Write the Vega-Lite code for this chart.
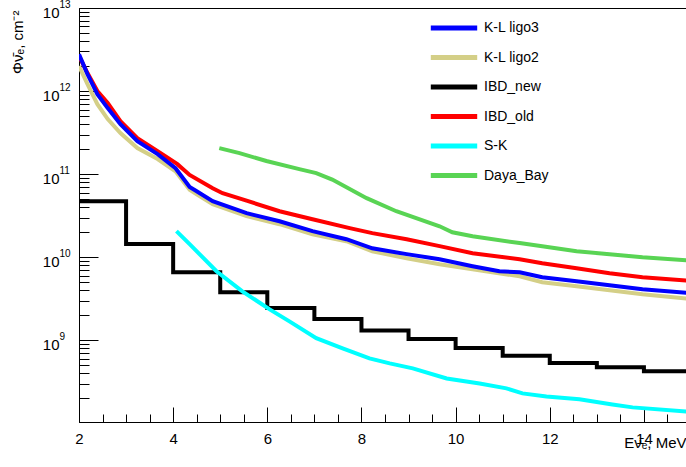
{
  "$schema": "https://vega.github.io/schema/vega-lite/v6.json",
  "width": 612,
  "height": 414,
  "autosize": {"type": "none"},
  "padding": {"left": 79, "top": 8, "right": 0, "bottom": 45},
  "background": "white",
  "config": {
    "view": {"stroke": "black", "strokeWidth": 1},
    "font": "Liberation Sans",
    "axis": {"grid": false, "domainColor": "black", "tickColor": "black", "labelColor": "black", "titleColor": "black", "labelFont": "Liberation Sans", "titleFont": "Liberation Sans", "labelFontSize": 15, "titleFontSize": 15, "titleFontWeight": "normal", "labelFlush": false, "labelOverlap": false, "labelBound": false}
  },
  "data": {"values": [
    {"s": "K-L ligo2", "x": 2.0, "y": 2.0e12}, {"s": "K-L ligo2", "x": 2.18, "y": 1.21e12}, {"s": "K-L ligo2", "x": 2.39, "y": 6.97e11}, {"s": "K-L ligo2", "x": 2.61, "y": 4.6e11}, {"s": "K-L ligo2", "x": 2.88, "y": 3.12e11}, {"s": "K-L ligo2", "x": 3.24, "y": 2.06e11}, {"s": "K-L ligo2", "x": 3.67, "y": 1.52e11}, {"s": "K-L ligo2", "x": 4.05, "y": 1.08e11}, {"s": "K-L ligo2", "x": 4.35, "y": 6.5e10}, {"s": "K-L ligo2", "x": 4.5, "y": 5.74e10}, {"s": "K-L ligo2", "x": 4.84, "y": 4.36e10}, {"s": "K-L ligo2", "x": 5.56, "y": 3.12e10}, {"s": "K-L ligo2", "x": 6.26, "y": 2.5e10}, {"s": "K-L ligo2", "x": 6.96, "y": 1.89e10}, {"s": "K-L ligo2", "x": 7.68, "y": 1.56e10}, {"s": "K-L ligo2", "x": 8.23, "y": 1.18e10}, {"s": "K-L ligo2", "x": 8.96, "y": 9.73e9}, {"s": "K-L ligo2", "x": 9.66, "y": 8.24e9}, {"s": "K-L ligo2", "x": 10.36, "y": 7.16e9}, {"s": "K-L ligo2", "x": 11.36, "y": 5.9e9}, {"s": "K-L ligo2", "x": 11.84, "y": 5.0e9}, {"s": "K-L ligo2", "x": 12.57, "y": 4.48e9}, {"s": "K-L ligo2", "x": 13.27, "y": 4.0e9}, {"s": "K-L ligo2", "x": 13.97, "y": 3.58e9}, {"s": "K-L ligo2", "x": 15.0, "y": 3.15e9},
    {"s": "IBD_old", "x": 2.0, "y": 2.65e12}, {"s": "IBD_old", "x": 2.18, "y": 1.65e12}, {"s": "IBD_old", "x": 2.39, "y": 1.0e12}, {"s": "IBD_old", "x": 2.61, "y": 7.2e11}, {"s": "IBD_old", "x": 2.88, "y": 4.36e11}, {"s": "IBD_old", "x": 3.24, "y": 2.72e11}, {"s": "IBD_old", "x": 3.67, "y": 1.89e11}, {"s": "IBD_old", "x": 4.09, "y": 1.32e11}, {"s": "IBD_old", "x": 4.35, "y": 9.8e10}, {"s": "IBD_old", "x": 4.84, "y": 6.78e10}, {"s": "IBD_old", "x": 5.05, "y": 5.9e10}, {"s": "IBD_old", "x": 5.56, "y": 4.8e10}, {"s": "IBD_old", "x": 6.26, "y": 3.58e10}, {"s": "IBD_old", "x": 6.96, "y": 2.87e10}, {"s": "IBD_old", "x": 7.75, "y": 2.24e10}, {"s": "IBD_old", "x": 8.23, "y": 1.95e10}, {"s": "IBD_old", "x": 8.96, "y": 1.65e10}, {"s": "IBD_old", "x": 9.66, "y": 1.36e10}, {"s": "IBD_old", "x": 10.36, "y": 1.12e10}, {"s": "IBD_old", "x": 11.36, "y": 9.46e9}, {"s": "IBD_old", "x": 11.84, "y": 8.47e9}, {"s": "IBD_old", "x": 12.57, "y": 7.37e9}, {"s": "IBD_old", "x": 13.27, "y": 6.41e9}, {"s": "IBD_old", "x": 13.97, "y": 5.74e9}, {"s": "IBD_old", "x": 15.0, "y": 5.2e9},
    {"s": "K-L ligo3", "x": 2.0, "y": 2.77e12}, {"s": "K-L ligo3", "x": 2.18, "y": 1.6e12}, {"s": "K-L ligo3", "x": 2.39, "y": 9.2e11}, {"s": "K-L ligo3", "x": 2.61, "y": 6.24e11}, {"s": "K-L ligo3", "x": 2.88, "y": 4.0e11}, {"s": "K-L ligo3", "x": 3.24, "y": 2.5e11}, {"s": "K-L ligo3", "x": 3.67, "y": 1.74e11}, {"s": "K-L ligo3", "x": 4.05, "y": 1.18e11}, {"s": "K-L ligo3", "x": 4.35, "y": 7.0e10}, {"s": "K-L ligo3", "x": 4.5, "y": 6.24e10}, {"s": "K-L ligo3", "x": 4.84, "y": 4.73e10}, {"s": "K-L ligo3", "x": 5.56, "y": 3.39e10}, {"s": "K-L ligo3", "x": 6.26, "y": 2.71e10}, {"s": "K-L ligo3", "x": 6.96, "y": 2.06e10}, {"s": "K-L ligo3", "x": 7.68, "y": 1.65e10}, {"s": "K-L ligo3", "x": 8.23, "y": 1.28e10}, {"s": "K-L ligo3", "x": 8.96, "y": 1.09e10}, {"s": "K-L ligo3", "x": 9.66, "y": 9.46e9}, {"s": "K-L ligo3", "x": 10.36, "y": 7.8e9}, {"s": "K-L ligo3", "x": 10.93, "y": 6.78e9}, {"s": "K-L ligo3", "x": 11.36, "y": 6.6e9}, {"s": "K-L ligo3", "x": 11.84, "y": 5.74e9}, {"s": "K-L ligo3", "x": 12.57, "y": 5.14e9}, {"s": "K-L ligo3", "x": 13.27, "y": 4.6e9}, {"s": "K-L ligo3", "x": 13.97, "y": 4.11e9}, {"s": "K-L ligo3", "x": 15.0, "y": 3.7e9},
    {"s": "IBD_new", "x": 2, "y": 4.73e10}, {"s": "IBD_new", "x": 3, "y": 1.44e10}, {"s": "IBD_new", "x": 4, "y": 6.6e9}, {"s": "IBD_new", "x": 5, "y": 3.78e9}, {"s": "IBD_new", "x": 6, "y": 2.45e9}, {"s": "IBD_new", "x": 7, "y": 1.81e9}, {"s": "IBD_new", "x": 8, "y": 1.31e9}, {"s": "IBD_new", "x": 9, "y": 1.04e9}, {"s": "IBD_new", "x": 10, "y": 8.06e8}, {"s": "IBD_new", "x": 11, "y": 6.53e8}, {"s": "IBD_new", "x": 12, "y": 5.33e8}, {"s": "IBD_new", "x": 13, "y": 4.73e8}, {"s": "IBD_new", "x": 14, "y": 4.24e8}, {"s": "IBD_new", "x": 15, "y": 4.24e8},
    {"s": "S-K", "x": 4.07, "y": 2.06e10}, {"s": "S-K", "x": 4.35, "y": 1.44e10}, {"s": "S-K", "x": 4.92, "y": 6.78e9}, {"s": "S-K", "x": 5.47, "y": 3.89e9}, {"s": "S-K", "x": 6.05, "y": 2.36e9}, {"s": "S-K", "x": 6.47, "y": 1.69e9}, {"s": "S-K", "x": 7.04, "y": 1.06e9}, {"s": "S-K", "x": 7.6, "y": 8.0e8}, {"s": "S-K", "x": 8.17, "y": 6.07e8}, {"s": "S-K", "x": 8.6, "y": 5.28e8}, {"s": "S-K", "x": 9.09, "y": 4.6e8}, {"s": "S-K", "x": 9.81, "y": 3.48e8}, {"s": "S-K", "x": 10.51, "y": 3.03e8}, {"s": "S-K", "x": 11.08, "y": 2.64e8}, {"s": "S-K", "x": 11.42, "y": 2.3e8}, {"s": "S-K", "x": 11.93, "y": 2.11e8}, {"s": "S-K", "x": 12.63, "y": 1.95e8}, {"s": "S-K", "x": 13.33, "y": 1.69e8}, {"s": "S-K", "x": 13.76, "y": 1.56e8}, {"s": "S-K", "x": 15.0, "y": 1.38e8},
    {"s": "Daya_Bay", "x": 4.98, "y": 2.06e11}, {"s": "Daya_Bay", "x": 5.41, "y": 1.79e11}, {"s": "Daya_Bay", "x": 5.98, "y": 1.44e11}, {"s": "Daya_Bay", "x": 6.68, "y": 1.15e11}, {"s": "Daya_Bay", "x": 7.04, "y": 1.03e11}, {"s": "Daya_Bay", "x": 7.38, "y": 8.6e10}, {"s": "Daya_Bay", "x": 8.11, "y": 5.14e10}, {"s": "Daya_Bay", "x": 8.74, "y": 3.58e10}, {"s": "Daya_Bay", "x": 9.66, "y": 2.36e10}, {"s": "Daya_Bay", "x": 9.93, "y": 2.0e10}, {"s": "Daya_Bay", "x": 10.36, "y": 1.79e10}, {"s": "Daya_Bay", "x": 11.36, "y": 1.48e10}, {"s": "Daya_Bay", "x": 11.84, "y": 1.36e10}, {"s": "Daya_Bay", "x": 12.57, "y": 1.18e10}, {"s": "Daya_Bay", "x": 13.27, "y": 1.09e10}, {"s": "Daya_Bay", "x": 13.97, "y": 1.0e10}, {"s": "Daya_Bay", "x": 15.0, "y": 9.1e9}
  ]},
  "layer": [
    {
      "transform": [{"filter": "datum.s == 'K-L ligo2' || datum.s == 'IBD_old' || datum.s == 'K-L ligo3'"}],
      "mark": {"type": "line", "strokeWidth": 4, "clip": true},
      "encoding": {
        "x": {"field": "x", "type": "quantitative",
          "scale": {"domain": [2, 15], "nice": false, "zero": false},
          "axis": {"orient": "bottom", "values": [2, 4, 6, 8, 10, 12, 14], "tickSize": -15, "labelPadding": 24, "title": "Eν̄ₑ, MeV", "titleAnchor": "end", "titleAlign": "right", "titleBaseline": "alphabetic", "titleX": 607, "titleY": 25}},
        "y": {"field": "y", "type": "quantitative",
          "scale": {"type": "log", "domain": [1.04e8, 1e13], "nice": false},
          "axis": {"orient": "left", "values": [1e9, 1e10, 1e11, 1e12, 1e13], "tickSize": -19, "labelPadding": 39, "labelOffset": 4, "labelAlign": "right", "labelExpr": "'10'",
            "title": "Φν̄ₑ, cm⁻²", "titleAngle": 270, "titleAnchor": "end", "titleAlign": "right", "titleBaseline": "middle", "titleX": -62, "titleY": 2}},
        "color": {"field": "s", "type": "nominal",
          "scale": {"domain": ["K-L ligo3", "K-L ligo2", "IBD_new", "IBD_old", "S-K", "Daya_Bay"], "range": ["#0000ff", "#d4cf87", "#000000", "#ff0000", "#00ffff", "#59d454"]},
          "legend": {"orient": "none", "legendX": 358, "legendY": 3, "title": null, "symbolType": "M-1.6,0H1.6", "symbolSize": 841, "symbolStrokeWidth": 5, "labelFontSize": 14, "labelFont": "Liberation Sans", "labelColor": "black", "labelOffset": 13, "rowPadding": 2.5, "padding": 0}}
      }
    },
    {
      "transform": [{"filter": "datum.s == 'IBD_new'"}],
      "mark": {"type": "line", "strokeWidth": 4, "interpolate": "step-after", "clip": true},
      "encoding": {
        "x": {"field": "x", "type": "quantitative",
          "scale": {"domain": [2, 15], "nice": false, "zero": false},
          "axis": {"orient": "bottom", "values": [2.5, 3, 3.5, 4.5, 5, 5.5, 6.5, 7, 7.5, 8.5, 9, 9.5, 10.5, 11, 11.5, 12.5, 13, 13.5, 14.5], "tickSize": -8, "labels": false, "domain": false, "title": null}},
        "y": {"field": "y", "type": "quantitative",
          "scale": {"type": "log", "domain": [1.04e8, 1e13], "nice": false},
          "axis": {"orient": "left", "values": [2e8, 3e8, 4e8, 5e8, 6e8, 7e8, 8e8, 9e8, 2e9, 3e9, 4e9, 5e9, 6e9, 7e9, 8e9, 9e9, 2e10, 3e10, 4e10, 5e10, 6e10, 7e10, 8e10, 9e10, 2e11, 3e11, 4e11, 5e11, 6e11, 7e11, 8e11, 9e11, 2e12, 3e12, 4e12, 5e12, 6e12, 7e12, 8e12, 9e12], "tickSize": -10, "labels": false, "domain": false, "title": null}},
        "color": {"field": "s", "type": "nominal"}
      }
    },
    {
      "transform": [{"filter": "datum.s == 'S-K' || datum.s == 'Daya_Bay'"}],
      "mark": {"type": "line", "strokeWidth": 4, "clip": true},
      "encoding": {
        "x": {"field": "x", "type": "quantitative",
          "scale": {"domain": [2, 15], "nice": false, "zero": false},
          "axis": null},
        "y": {"field": "y", "type": "quantitative",
          "scale": {"type": "log", "domain": [1.04e8, 1e13], "nice": false},
          "axis": {"orient": "left", "values": [1e9, 1e10, 1e11, 1e12, 1e13], "ticks": false, "tickSize": 0, "domain": false, "labelPadding": 20, "labelAlign": "left", "labelFontSize": 10, "labelOffset": -4, "labelExpr": "format(log(datum.value) / log(10), '.0f')", "title": null}},
        "color": {"field": "s", "type": "nominal"}
      }
    }
  ],
  "resolve": {"axis": {"x": "independent", "y": "independent"}}
}
